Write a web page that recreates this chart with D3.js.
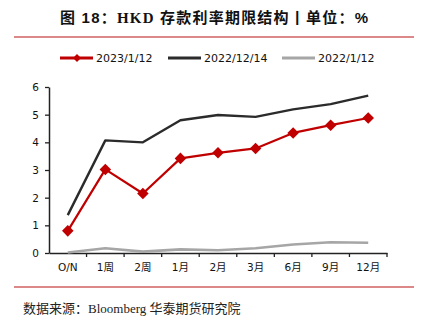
<!DOCTYPE html>
<html>
<head>
<meta charset="utf-8">
<script src="https://cdn.jsdelivr.net/npm/d3@7"></script>
<style>
  html, body { margin: 0; padding: 0; background: #fff; }
  svg { display: block; }
</style>
</head>
<body>
<svg id="chart" width="426" height="327"></svg>
<script>
// Tenors on the x axis
const tenors = ["O/N", "1周", "2周", "1月", "2月", "3月", "6月", "9月", "12月"];
// HKD deposit rates (%) by tenor for each date
const rates20230112 = [0.80, 3.02, 2.15, 3.42, 3.62, 3.78, 4.34, 4.62, 4.88];
const rates20221214 = [1.37, 4.07, 4.00, 4.80, 4.99, 4.92, 5.19, 5.38, 5.69];
const rates20220112 = [0.02, 0.17, 0.05, 0.13, 0.10, 0.17, 0.31, 0.39, 0.37];
const seriesNames = ["2023/1/12", "2022/12/14", "2022/1/12"];
const yTicks = [0, 1, 2, 3, 4, 5, 6];

const svg = d3.select("#chart");
const serif = "'Liberation Serif', 'Noto Sans CJK SC', serif";
const cjkSans = "'Liberation Sans', 'Noto Sans CJK SC', sans-serif";
const sans = "'DejaVu Sans', 'Noto Sans CJK SC', sans-serif";

// Title: mixed sans / serif runs
const title = svg.append("text")
  .attr("x", 60).attr("y", 23)
  .attr("font-weight", "bold")
  .attr("font-size", 15)
  .attr("fill", "#111")
  .attr("textLength", 308)
  .attr("lengthAdjust", "spacing");
[
  ["图 18：", cjkSans],
  ["HKD", serif],
  [" 存款利率期限结构丨单位：%", cjkSans]
].forEach(([t, f]) => title.append("tspan").attr("font-family", f).text(t));

// Rules above the plot and above the source note
[37, 287].forEach(y => {
  svg.append("line")
    .attr("x1", 14).attr("x2", 414)
    .attr("y1", y).attr("y2", y)
    .attr("stroke", "#d06060").attr("stroke-width", 1.3);
});

// Source note
svg.append("text")
  .attr("x", 23).attr("y", 313)
  .attr("font-family", serif)
  .attr("font-size", 13)
  .attr("fill", "#222")
  .text("数据来源：Bloomberg 华泰期货研究院");

// Scales
const x = d3.scaleBand().domain(tenors).range([49, 387]);
const y = d3.scaleLinear().domain([0, 6]).range([253, 87]);

const series = [
  { name: seriesNames[0], values: rates20230112, color: "#c00000", width: 2.2, marker: true },
  { name: seriesNames[1], values: rates20221214, color: "#2b2b2b", width: 2.4, marker: false },
  { name: seriesNames[2], values: rates20220112, color: "#a6a6a6", width: 2.6, marker: false }
];

// Axes
const yAxis = svg.append("g")
  .attr("transform", "translate(49,0)")
  .call(d3.axisLeft(y).tickValues(yTicks).tickFormat(d3.format("d")).tickSize(4).tickSizeOuter(0));
const xAxis = svg.append("g")
  .attr("transform", "translate(0,253)")
  .call(d3.axisBottom(x).tickSize(4).tickSizeOuter(0).tickPadding(7));
// Ticks sit on band edges rather than band centres
xAxis.selectAll(".tick line")
  .attr("x1", x.bandwidth() / 2).attr("x2", x.bandwidth() / 2);
xAxis.append("line")
  .attr("x1", 49).attr("x2", 49).attr("y1", 0).attr("y2", 4);

[yAxis, xAxis].forEach(g => {
  g.select(".domain").attr("stroke", "#222").attr("stroke-width", 1.5);
  g.selectAll(".tick line").attr("stroke", "#222").attr("stroke-width", 1.3);
  g.selectAll("text")
    .attr("font-family", sans)
    .attr("font-size", 10.5)
    .attr("fill", "#111");
});
yAxis.selectAll("text").attr("dx", "-3");

// Lines (drawn back to front)
const line = d3.line()
  .x((d, i) => x(tenors[i]) + x.bandwidth() / 2)
  .y(d => y(d));

const diamond = d3.symbol().type(d3.symbolDiamond2).size(85);

series.slice().reverse().forEach(s => {
  svg.append("path")
    .datum(s.values)
    .attr("fill", "none")
    .attr("stroke", s.color)
    .attr("stroke-width", s.width)
    .attr("stroke-linejoin", "round")
    .attr("d", line);
  if (s.marker) {
    svg.selectAll(null)
      .data(s.values)
      .enter().append("path")
      .attr("d", diamond)
      .attr("transform", (d, i) => `translate(${x(tenors[i]) + x.bandwidth() / 2},${y(d)})`)
      .attr("fill", s.color);
  }
});

// Legend
const legendX = [60, 168, 282];
series.forEach((s, i) => {
  const g = svg.append("g").attr("transform", `translate(${legendX[i]},58)`);
  g.append("line")
    .attr("x1", 0).attr("x2", 33)
    .attr("stroke", s.color).attr("stroke-width", s.width + 0.6);
  if (s.marker) {
    g.append("path")
      .attr("d", d3.symbol().type(d3.symbolDiamond2).size(40))
      .attr("transform", "translate(17,0)")
      .attr("fill", s.color);
  }
  g.append("text")
    .attr("x", 36).attr("y", 4)
    .attr("font-family", sans)
    .attr("font-size", 11)
    .attr("fill", "#111")
    .text(s.name);
});
</script>
</body>
</html>
